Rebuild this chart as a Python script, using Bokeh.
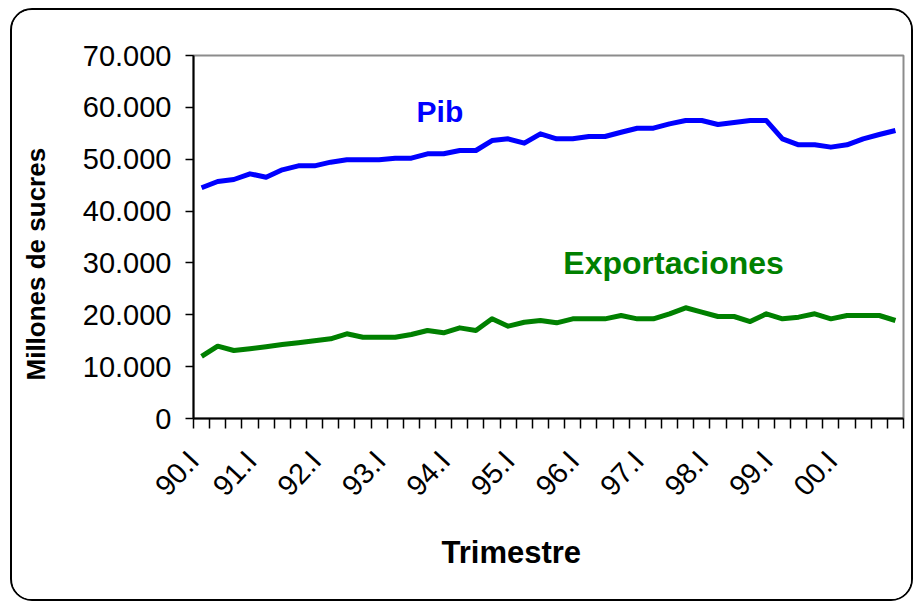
import math
from bokeh.plotting import figure
from bokeh.models import FixedTicker, Label, Range1d, Title, LinearAxis
from bokeh.embed import file_html
from bokeh.resources import INLINE

quarters = ["I", "II", "III", "IV"]
years = ["90", "91", "92", "93", "94", "95", "96", "97", "98", "99", "00"]
categories = [f"{y}.{q}" for y in years for q in quarters]

pib = [44490, 45700, 46090, 47180, 46530, 47950, 48720, 48720, 49430, 49880,
       49880, 49880, 50200, 50200, 51040, 51040, 51680, 51680, 53600, 53930,
       53090, 54900, 53930, 53930, 54380, 54380, 55200, 55980, 55980, 56820,
       57460, 57460, 56690, 57080, 57460, 57460, 53930, 52780, 52780, 52330,
       52780, 53930, 54760, 55530]

exportaciones = [11960, 13950, 13110, 13450, 13850, 14250, 14600, 15000, 15370, 16330,
                 15680, 15680, 15680, 16200, 16970, 16520, 17480, 16970, 19220, 17800,
                 18570, 18900, 18450, 19220, 19220, 19220, 19860, 19220, 19220, 20190,
                 21350, 20500, 19670, 19670, 18700, 20190, 19220, 19540, 20190, 19220,
                 19860, 19860, 19860, 18900]

y_ticks = [0, 10000, 20000, 30000, 40000, 50000, 60000, 70000]
y_tick_labels = ["0", "10.000", "20.000", "30.000", "40.000", "50.000", "60.000", "70.000"]
x_label_names = [c for c in categories if c.endswith(".I")]

FONT = "Liberation Sans"
n = len(categories)
xs = [i + 0.5 for i in range(n)]

p = figure(width=903, height=593, output_backend="svg", toolbar_location=None,
           x_range=Range1d(0, n), y_range=Range1d(0, 70000),
           min_border_left=181, min_border_right=12, min_border_top=45, min_border_bottom=185)
p.styles = {"margin-left": "10px", "margin-top": "8px",
            "border": "2px solid black", "border-radius": "22px", "overflow": "hidden"}
p.background_fill_color = "white"
p.border_fill_color = "white"
p.outline_line_color = "#8c8c8c"
p.outline_line_width = 2
p.xgrid.visible = False
p.ygrid.visible = False

p.line(xs, pib, line_color="#0000FF", line_width=5, line_join="round")
p.line(xs, exportaciones, line_color="#008000", line_width=5, line_join="round")

# y axis
p.yaxis.ticker = FixedTicker(ticks=y_ticks, minor_ticks=[])
p.yaxis.major_label_overrides = {t: l for t, l in zip(y_ticks, y_tick_labels)}
p.yaxis.major_label_text_font = FONT
p.yaxis.major_label_text_font_size = "29px"
p.yaxis.major_label_text_color = "black"
p.yaxis.major_tick_in = 0
p.yaxis.major_tick_out = 8
p.yaxis.major_tick_line_width = 1.5
p.yaxis.major_label_standoff = 14
p.yaxis.axis_line_width = 2
p.yaxis.axis_line_color = "black"

# invisible spacer axis between the value axis and its title
spacer = LinearAxis(ticker=FixedTicker(ticks=[y_ticks[3]], minor_ticks=[]),
                    major_label_overrides={y_ticks[3]: ""},
                    axis_line_color=None, major_tick_line_color=None,
                    minor_tick_line_color=None, major_tick_in=0, major_tick_out=29,
                    major_label_standoff=0)
p.add_layout(spacer, "left")

# x axis: tick marks at category boundaries (minor), labels every year (major)
label_pos = [max(categories.index(c) - 0.43, 0.0) for c in x_label_names]
p.xaxis.ticker = FixedTicker(ticks=label_pos, minor_ticks=list(range(n + 1)))
p.xaxis.major_label_overrides = {pos: name for pos, name in zip(label_pos, x_label_names)}
p.xaxis.major_tick_line_color = None
p.xaxis.minor_tick_in = 0
p.xaxis.minor_tick_out = 10
p.xaxis.minor_tick_line_width = 1.5
p.xaxis.minor_tick_line_color = "black"
p.xaxis.major_label_orientation = math.radians(47)
p.xaxis.major_label_text_font = FONT
p.xaxis.major_label_text_font_size = "29px"
p.xaxis.major_label_text_color = "black"
p.xaxis.major_label_standoff = 27
p.xaxis.axis_line_width = 2
p.xaxis.axis_line_color = "black"

p.add_layout(Title(text="Millones de sucres", align="left", offset=38, standoff=0,
                   text_font=FONT, text_font_style="bold", text_font_size="26px",
                   text_color="black"), "left")
p.add_layout(Title(text="Trimestre", align="left", offset=248, standoff=35,
                   text_font=FONT, text_font_style="bold", text_font_size="31px",
                   text_color="black"), "below")
p.add_layout(Label(x=15.27, y=59200, text="Pib", text_align="center",
                   text_baseline="middle", text_font=FONT, text_font_style="bold",
                   text_font_size="30px", text_color="#0000FF"))
p.add_layout(Label(x=29.75, y=29900, text="Exportaciones", text_align="center",
                   text_baseline="middle", text_font=FONT, text_font_style="bold",
                   text_font_size="32px", text_color="#008000"))

open("out.html", "w").write(file_html(p, INLINE))
